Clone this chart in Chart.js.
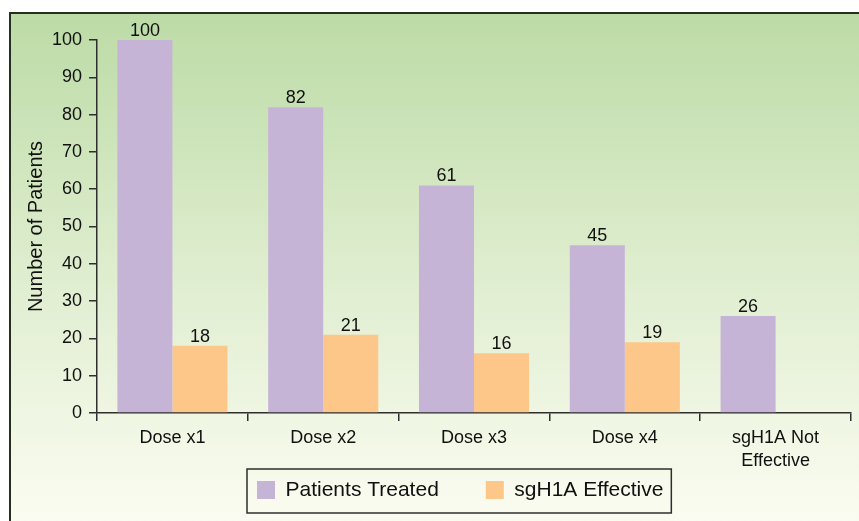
<!DOCTYPE html>
<html><head><meta charset="utf-8">
<script src="https://cdn.jsdelivr.net/npm/chart.js"></script>
<style>html,body{margin:0;padding:0;background:#fff;} canvas{display:block;}</style>
</head><body>
<canvas id="c" width="859" height="521"></canvas>
<script>
// ---- data ----
const categories = ['Dose x1', 'Dose x2', 'Dose x3', 'Dose x4', ['sgH1A Not', 'Effective']];
const patientsTreated = [100, 82, 61, 45, 26];
const sgH1AEffective = [18, 21, 16, 19, null];
const seriesNames = ['Patients Treated', 'sgH1A Effective'];
const yAxisTitle = 'Number of Patients';
const yMin = 0, yMax = 100, yStep = 10;

// ---- style ----
const FONT = "'Liberation Sans', Arial, Helvetica, sans-serif";
const PURPLE = '#c6b4d7';
const ORANGE = '#fec78a';
const AXIS = '#2e2e2e';
const TEXT = '#111111';

const bgPlugin = {
  id: 'bg',
  beforeDraw(chart) {
    const ctx = chart.ctx;
    ctx.save();
    ctx.fillStyle = '#ffffff';
    ctx.fillRect(0, 0, chart.width, chart.height);
    const g = ctx.createLinearGradient(0, 13, 0, chart.height);
    g.addColorStop(0, '#bcdba6');
    g.addColorStop(0.5, '#deedce');
    g.addColorStop(1, '#fbfcf1');
    ctx.fillStyle = g;
    ctx.fillRect(10, 13, chart.width, chart.height);
    ctx.strokeStyle = '#26301f';
    ctx.lineWidth = 2;
    ctx.strokeRect(10, 13, chart.width + 10, chart.height + 10);
    ctx.restore();
  }
};

const legendPlugin = {
  id: 'legendShift',
  afterUpdate(chart) {
    const lg = chart.legend;
    if (!lg || !lg.legendHitBoxes || !lg.legendHitBoxes.length) return;
    const hb = lg.legendHitBoxes;
    const dx = 257 - hb[0].left;
    const dy = 479.5 - hb[0].top;
    lg.left += dx; lg.right += dx;
    lg.top += dy; lg.bottom = chart.height; lg.height = lg.bottom - lg.top;
    hb.forEach(h => { h.left += dx; h.top += dy; });
  },
  afterDraw(chart) {
    const lg = chart.legend;
    if (!lg || !lg.legendHitBoxes || !lg.legendHitBoxes.length) return;
    const hb = lg.legendHitBoxes;
    const last = hb[hb.length - 1];
    const l = hb[0].left - 10;
    const r = last.left + last.width + 8;
    const t = hb[0].top - 10.5;
    const b = hb[0].top + hb[0].height + 12.5;
    const ctx = chart.ctx;
    ctx.save();
    ctx.strokeStyle = AXIS;
    ctx.lineWidth = 1.5;
    ctx.strokeRect(l, t, r - l, b - t);
    ctx.restore();
  }
};

const labelPlugin = {
  id: 'valueLabels',
  afterDatasetsDraw(chart) {
    const ctx = chart.ctx;
    ctx.save();
    ctx.font = '18px ' + FONT;
    ctx.fillStyle = TEXT;
    ctx.textAlign = 'center';
    ctx.textBaseline = 'alphabetic';
    chart.data.datasets.forEach((ds, i) => {
      const meta = chart.getDatasetMeta(i);
      meta.data.forEach((el, j) => {
        const v = ds.data[j];
        if (v === null || v === undefined) return;
        ctx.fillText(String(v), el.x, el.y - 4);
      });
    });
    ctx.restore();
  }
};

new Chart(document.getElementById('c'), {
  type: 'bar',
  data: {
    labels: categories,
    datasets: [
      { label: seriesNames[0], data: patientsTreated, backgroundColor: PURPLE, categoryPercentage: 0.73, barPercentage: 1.0 },
      { label: seriesNames[1], data: sgH1AEffective, backgroundColor: ORANGE, categoryPercentage: 0.73, barPercentage: 1.0 }
    ]
  },
  options: {
    responsive: false,
    animation: false,
    layout: { padding: { left: 20, right: 8, top: 40, bottom: 0 } },
    plugins: {
      legend: {
        position: 'bottom',
        maxHeight: 43,
        labels: { boxWidth: 18, boxHeight: 18, padding: 47, color: TEXT, font: { size: 21, family: FONT } }
      },
      tooltip: { enabled: false }
    },
    scales: {
      x: {
        grid: { display: true, drawOnChartArea: false, tickLength: 8, color: AXIS, lineWidth: 1.5, offset: true },
        border: { color: AXIS, width: 1.5 },
        ticks: { color: TEXT, font: { size: 18, family: FONT, lineHeight: 1.25 }, padding: 6, maxRotation: 0, autoSkip: false }
      },
      y: {
        min: yMin, max: yMax,
        grid: { drawOnChartArea: false, tickLength: 8, color: AXIS, lineWidth: 1.5 },
        border: { color: AXIS, width: 1.5 },
        ticks: { stepSize: yStep, color: TEXT, font: { size: 18, family: FONT }, padding: 7 },
        title: { display: true, text: yAxisTitle, color: TEXT, font: { size: 20, family: FONT }, padding: { top: 4, bottom: -3 } }
      }
    }
  },
  plugins: [bgPlugin, legendPlugin, labelPlugin]
});
</script>
</body></html>
